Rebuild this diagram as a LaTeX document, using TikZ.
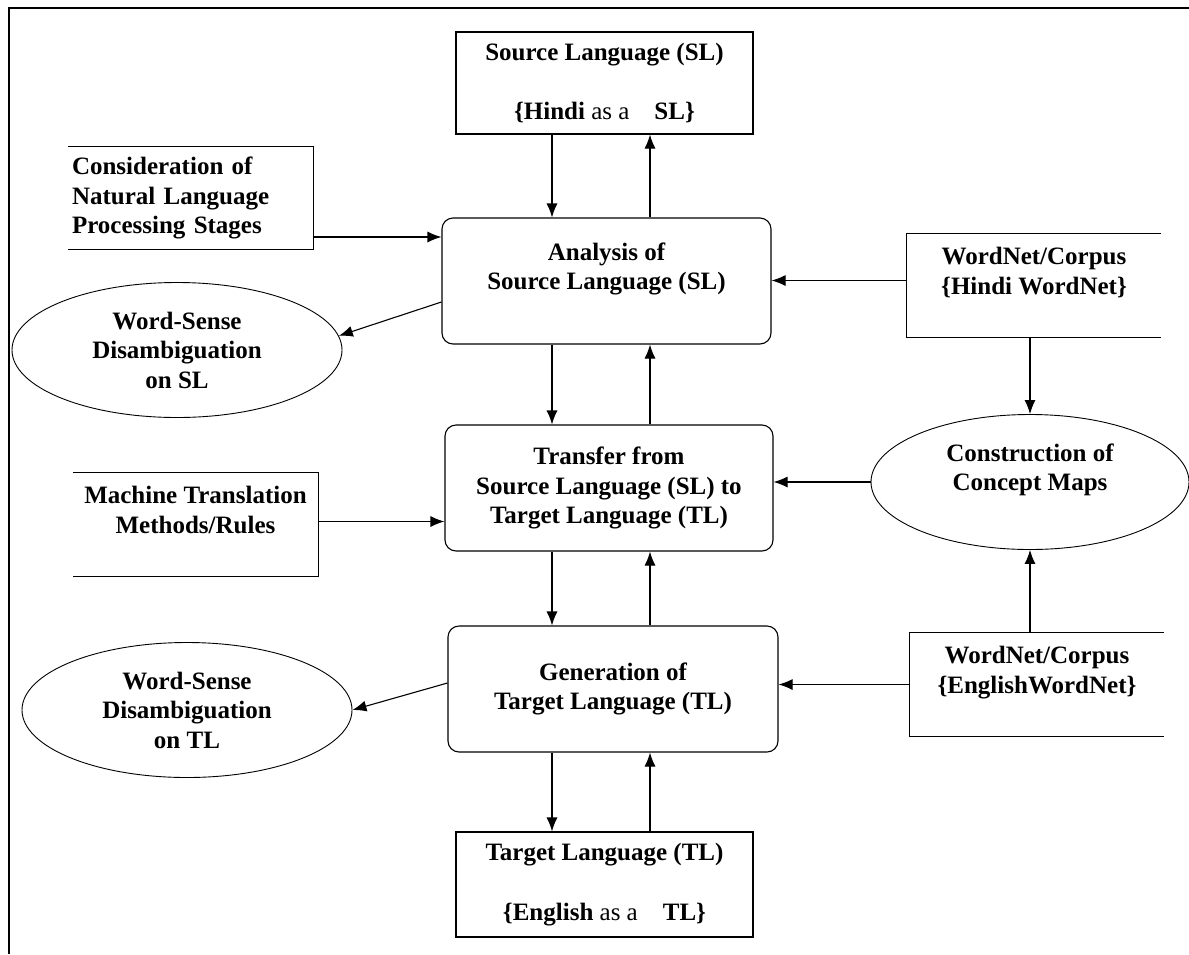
\documentclass[tikz,border=0pt]{standalone}
\usepackage{fontspec}
\setmainfont{Liberation Serif}
\usepackage{tikz}
\usetikzlibrary{calc}
\usetikzlibrary{arrows.meta}
\usetikzlibrary{shapes.geometric}
\tikzset{
  box/.style={draw, line width=1.1pt, align=center, inner sep=0pt},
  stage/.style={box, rounded corners=11pt},
  openbox/.style={align=center, inner sep=0pt},
  oval/.style={ellipse, draw, line width=0.9pt, align=center, inner sep=0pt},
  edge/.style={line width=1.1pt},
  link/.style={-{Latex[length=14pt, width=11pt]}, line width=1.1pt},
}
\newcommand\asa{{\mdseries as a}\quad}

\begin{document}
\begin{tikzpicture}[x=1pt, y=-1pt,
    font=\fontsize{25}{29.5}\selectfont\bfseries]
    \useasboundingbox (0,0) rectangle (1189,954);
    \draw [line width=1.5pt] (9,954) -- (9,8) -- (1189,8);

    % middle column
    \node [box, minimum width=297pt, minimum height=102pt] (sl) at (604.5,83)
      {Source Language (SL)\\[30pt]\{Hindi \asa SL\}};
    \node [stage, minimum width=329pt, minimum height=126pt] (ana) at (606.5,281)
      {Analysis of\\Source Language (SL)\\\mbox{}};
    \node [stage, minimum width=328pt, minimum height=126pt] (tr) at (609,488)
      {Transfer from\\Source Language (SL) to\\Target Language (TL)};
    \node [stage, minimum width=330pt, minimum height=126pt] (gen) at (613,689)
      {Generation of\\Target Language (TL)};
    \node [box, minimum width=297pt, minimum height=105pt] (tl) at (604.5,884.5)
      {Target Language (TL)\\[30pt]\{English \asa TL\}};

    % left side
    \node [openbox, align=left, text width=237pt, inner xsep=4pt,
      minimum height=102pt] (cons) at (190.5,198)
      {Consideration of\\Natural Language\\Processing Stages};
    \draw [edge] (cons.north west) -- (cons.north east) -- (cons.south east)
      -- (cons.south west);
    \node [oval, minimum width=330pt, minimum height=135pt] (wsl) at (177,350)
      {Word-Sense\\Disambiguation\\on SL};
    \node [openbox, minimum width=245pt, minimum height=103pt] (mt) at (195.5,524.5)
      {Machine Translation\\Methods/Rules\\\mbox{}};
    \draw [edge] (mt.north west) -- (mt.north east) -- (mt.south east)
      -- (mt.south west);
    \node [oval, minimum width=330pt, minimum height=135pt] (wtl) at (187,710)
      {Word-Sense\\Disambiguation\\on TL};

    % right side
    \node [openbox, minimum width=254pt, minimum height=103pt] (hwn) at (1034,285.5)
      {WordNet/Corpus\\\{Hindi WordNet\}\\\mbox{}};
    \draw [edge] (hwn.north east) -- (hwn.north west) -- (hwn.south west)
      -- (hwn.south east);
    \node [oval, minimum width=318pt, minimum height=135pt] (cm) at (1030,482)
      {Construction of\\Concept Maps\\\mbox{}};
    \node [openbox, minimum width=254pt, minimum height=103pt] (ewn) at (1037,684.5)
      {WordNet/Corpus\\\{EnglishWordNet\}\\\mbox{}};
    \draw [edge] (ewn.north east) -- (ewn.north west) -- (ewn.south west)
      -- (ewn.south east);

    \coordinate (dn) at (552,0);
    \coordinate (up) at (650,0);

    % up and down the chain
    \draw [link] (sl.south -| dn) -- (ana.north -| dn);
    \draw [link] (ana.north -| up) -- (sl.south -| up);
    \draw [link] (ana.south -| dn) -- (tr.north -| dn);
    \draw [link] (tr.north -| up) -- (ana.south -| up);
    \draw [link] (tr.south -| dn) -- (gen.north -| dn);
    \draw [link] (gen.north -| up) -- (tr.south -| up);
    \draw [link] (gen.south -| dn) -- (tl.north -| dn);
    \draw [link] (tl.north -| up) -- (gen.south -| up);

    % inputs and outputs
    \draw [link] ([yshift=-39pt]cons.east) coordinate (c1) -- (c1 -| ana.west);
    \draw [link] ([yshift=5pt]hwn.west) coordinate (c2) -- (c2 -| ana.east);
    \draw [link] ([yshift=-21pt]ana.west) -- (wsl.5);
    \draw [link] ([yshift=3pt]mt.east) coordinate (c3) -- (c3 -| tr.west);
    \draw [link] (cm.west) -- (cm.west -| tr.east);
    \draw [link] (hwn.south -| cm.north) -- (cm.north);
    \draw [link] (ewn.north -| cm.south) -- (cm.south);
    \draw [link] (ewn.west) -- (ewn.west -| gen.east);
    \draw [link] ([yshift=6pt]gen.west) -- (wtl.east);
\end{tikzpicture}
\end{document}
